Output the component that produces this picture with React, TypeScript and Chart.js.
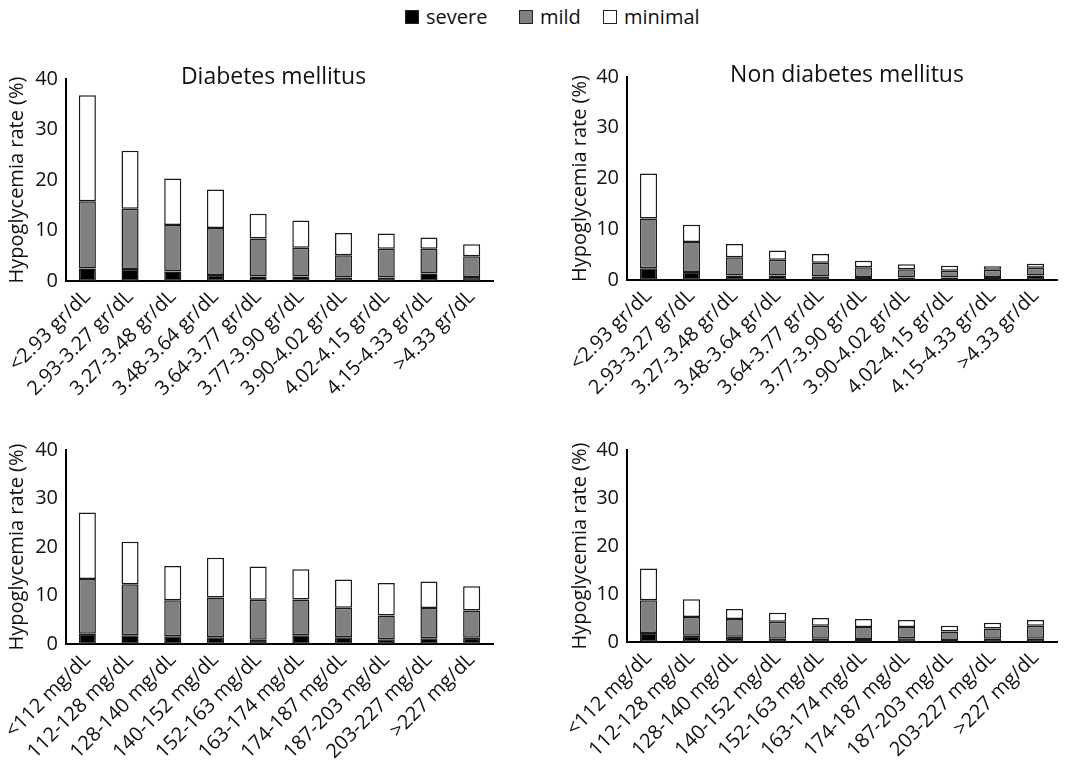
import React, { useEffect, useRef } from "react";
import { Chart, registerables } from "chart.js";

Chart.register(...registerables);

const albuminLabels = [
  "<2.93 gr/dL", "2.93-3.27 gr/dL", "3.27-3.48 gr/dL", "3.48-3.64 gr/dL", "3.64-3.77 gr/dL",
  "3.77-3.90 gr/dL", "3.90-4.02 gr/dL", "4.02-4.15 gr/dL", "4.15-4.33 gr/dL", ">4.33 gr/dL",
];
const glucoseLabels = [
  "<112 mg/dL", "112-128 mg/dL", "128-140 mg/dL", "140-152 mg/dL", "152-163 mg/dL",
  "163-174 mg/dL", "174-187 mg/dL", "187-203 mg/dL", "203-227 mg/dL", ">227 mg/dL",
];
const yTicks = [0, 10, 20, 30, 40];
const seriesNames = ["severe", "mild", "minimal"];
const yAxisTitle = "Hypoglycemia rate (%)";

// Diabetes mellitus, albumin
const dmAlbSevere = [2.5, 2.4, 1.9, 1.2, 0.9, 0.9, 0.7, 0.7, 1.5, 0.8];
const dmAlbMild = [13.3, 11.9, 9.2, 9.3, 7.5, 5.7, 4.4, 5.7, 4.9, 4.1];
const dmAlbMinimal = [21.0, 11.5, 9.2, 7.6, 4.9, 5.4, 4.4, 3.0, 2.2, 2.4];

// Non diabetes mellitus, albumin
const ndmAlbSevere = [2.3, 1.6, 0.9, 0.9, 0.7, 0.6, 0.5, 0.5, 0.6, 0.9];
const ndmAlbMild = [9.8, 5.9, 3.6, 3.1, 2.7, 1.9, 1.6, 1.3, 1.4, 1.5];
const ndmAlbMinimal = [8.9, 3.4, 2.6, 1.8, 1.7, 1.3, 1.0, 1.0, 0.7, 0.8];

// Diabetes mellitus, glucose
const dmGluSevere = [2.1, 1.8, 1.6, 1.4, 0.9, 1.8, 1.4, 1.0, 1.2, 1.3];
const dmGluMild = [11.3, 10.5, 7.4, 8.2, 8.2, 7.4, 6.1, 4.9, 6.2, 5.6];
const dmGluMinimal = [13.7, 8.8, 7.1, 8.2, 6.9, 6.2, 5.8, 6.7, 5.5, 5.0];

// Non diabetes mellitus, glucose
const ndmGluSevere = [1.9, 1.3, 1.1, 0.7, 0.7, 0.6, 0.8, 0.4, 0.7, 0.7];
const ndmGluMild = [6.8, 3.9, 3.7, 3.5, 2.7, 2.5, 2.3, 1.8, 2.1, 2.7];
const ndmGluMinimal = [6.6, 3.7, 2.1, 1.9, 1.6, 1.7, 1.5, 1.2, 1.2, 1.2];

const FONT = "'Open Sans', 'Noto Sans', sans-serif";
const seriesColors = ["#000000", "#808080", "#ffffff"];

const titlePlugin = {
  id: "panelTitle",
  afterDraw(chart: any, _args: any, opts: any) {
    if (!opts || !opts.text) return;
    const { ctx, chartArea } = chart;
    ctx.save();
    ctx.font = `23px ${FONT}`;
    ctx.fillStyle = "#111";
    ctx.textAlign = "center";
    ctx.textBaseline = "middle";
    ctx.fillText(opts.text, (chartArea.left + chartArea.right) / 2 + (opts.dx || 0), chartArea.top - 2);
    ctx.restore();
  },
};

type PanelProps = {
  left: number; top: number; width: number; height: number;
  labels: string[]; severe: number[]; mild: number[]; minimal: number[];
  title?: string; titleDx?: number;
  axisWidth: number; padTop: number; padRight: number; xHeight: number; yTitlePad: number;
};

function Panel(p: PanelProps) {
  const ref = useRef<HTMLCanvasElement>(null);
  useEffect(() => {
    const values = [p.severe, p.mild, p.minimal];
    const chart = new Chart(ref.current as HTMLCanvasElement, {
      type: "bar",
      data: {
        labels: p.labels,
        datasets: seriesNames.map((name, i) => ({
          label: name,
          data: values[i],
          backgroundColor: seriesColors[i],
          borderColor: "#1a1a1a",
          borderWidth: 1.5,
          borderSkipped: false,
          barPercentage: 0.4,
          categoryPercentage: 1,
        })),
      },
      options: {
        animation: false,
        responsive: false,
        maintainAspectRatio: false,
        layout: { padding: { left: 0, top: p.padTop, right: p.padRight, bottom: 0 } },
        plugins: {
          legend: { display: false },
          tooltip: { enabled: false },
          panelTitle: { text: p.title, dx: p.titleDx || 0 },
        } as any,
        scales: {
          x: {
            stacked: true,
            grid: { display: false, drawTicks: false },
            border: { display: true, color: "#000", width: 2 },
            ticks: {
              autoSkip: false,
              minRotation: 45,
              maxRotation: 45,
              color: "#111",
              padding: 4,
              font: { family: FONT, size: 20 },
            },
            afterFit: (s: any) => { s.height = p.xHeight; },
          },
          y: {
            stacked: true,
            min: 0,
            max: 40,
            grid: { display: false, drawTicks: false },
            border: { display: true, color: "#000", width: 2 },
            ticks: { color: "#111", padding: 8, font: { family: FONT, size: 20 } },
            afterBuildTicks: (s: any) => { s.ticks = yTicks.map((v) => ({ value: v })); },
            afterFit: (s: any) => { s.width = p.axisWidth; },
            title: {
              display: true,
              text: yAxisTitle,
              color: "#111",
              font: { family: FONT, size: 20 },
              padding: { top: p.yTitlePad, bottom: 0 },
            },
          },
        },
      } as any,
      plugins: [titlePlugin as any],
    });
    return () => chart.destroy();
  }, []);
  return (
    <canvas
      ref={ref}
      width={p.width}
      height={p.height}
      style={{ position: "absolute", left: p.left, top: p.top, width: p.width, height: p.height }}
    />
  );
}

function LegendItem({ x, color, text }: { x: number; color: string; text: string }) {
  return (
    <div style={{ position: "absolute", left: x, top: 4, height: 26, display: "flex", alignItems: "center" }}>
      <span style={{ display: "inline-block", width: 12, height: 12, background: color, border: "1px solid #222", marginRight: 7 }} />
      <span style={{ fontFamily: FONT, fontSize: 20, color: "#111", lineHeight: "26px" }}>{text}</span>
    </div>
  );
}

export default function App() {
  return (
    <div style={{ position: "absolute", left: 0, top: 0, width: 1065, height: 770, background: "#fff", overflow: "hidden" }}>
      <LegendItem x={405} color={seriesColors[0]} text={seriesNames[0]} />
      <LegendItem x={519} color={seriesColors[1]} text={seriesNames[1]} />
      <LegendItem x={603} color={seriesColors[2]} text={seriesNames[2]} />
      <Panel left={0} top={40} width={530} height={390} labels={albuminLabels}
        severe={dmAlbSevere} mild={dmAlbMild} minimal={dmAlbMinimal}
        title="Diabetes mellitus" titleDx={-6}
        axisWidth={66} padTop={39} padRight={37} xHeight={149} yTitlePad={5} />
      <Panel left={540} top={40} width={525} height={390} labels={albuminLabels}
        severe={ndmAlbSevere} mild={ndmAlbMild} minimal={ndmAlbMinimal}
        title="Non diabetes mellitus" titleDx={5}
        axisWidth={87} padTop={37} padRight={8} xHeight={150} yTitlePad={28} />
      <Panel left={0} top={430} width={530} height={340} labels={glucoseLabels}
        severe={dmGluSevere} mild={dmGluMild} minimal={dmGluMinimal}
        axisWidth={66} padTop={12} padRight={37} xHeight={126} yTitlePad={5} />
      <Panel left={540} top={430} width={525} height={340} labels={glucoseLabels}
        severe={ndmGluSevere} mild={ndmGluMild} minimal={ndmGluMinimal}
        axisWidth={87} padTop={11} padRight={8} xHeight={128} yTitlePad={28} />
    </div>
  );
}
